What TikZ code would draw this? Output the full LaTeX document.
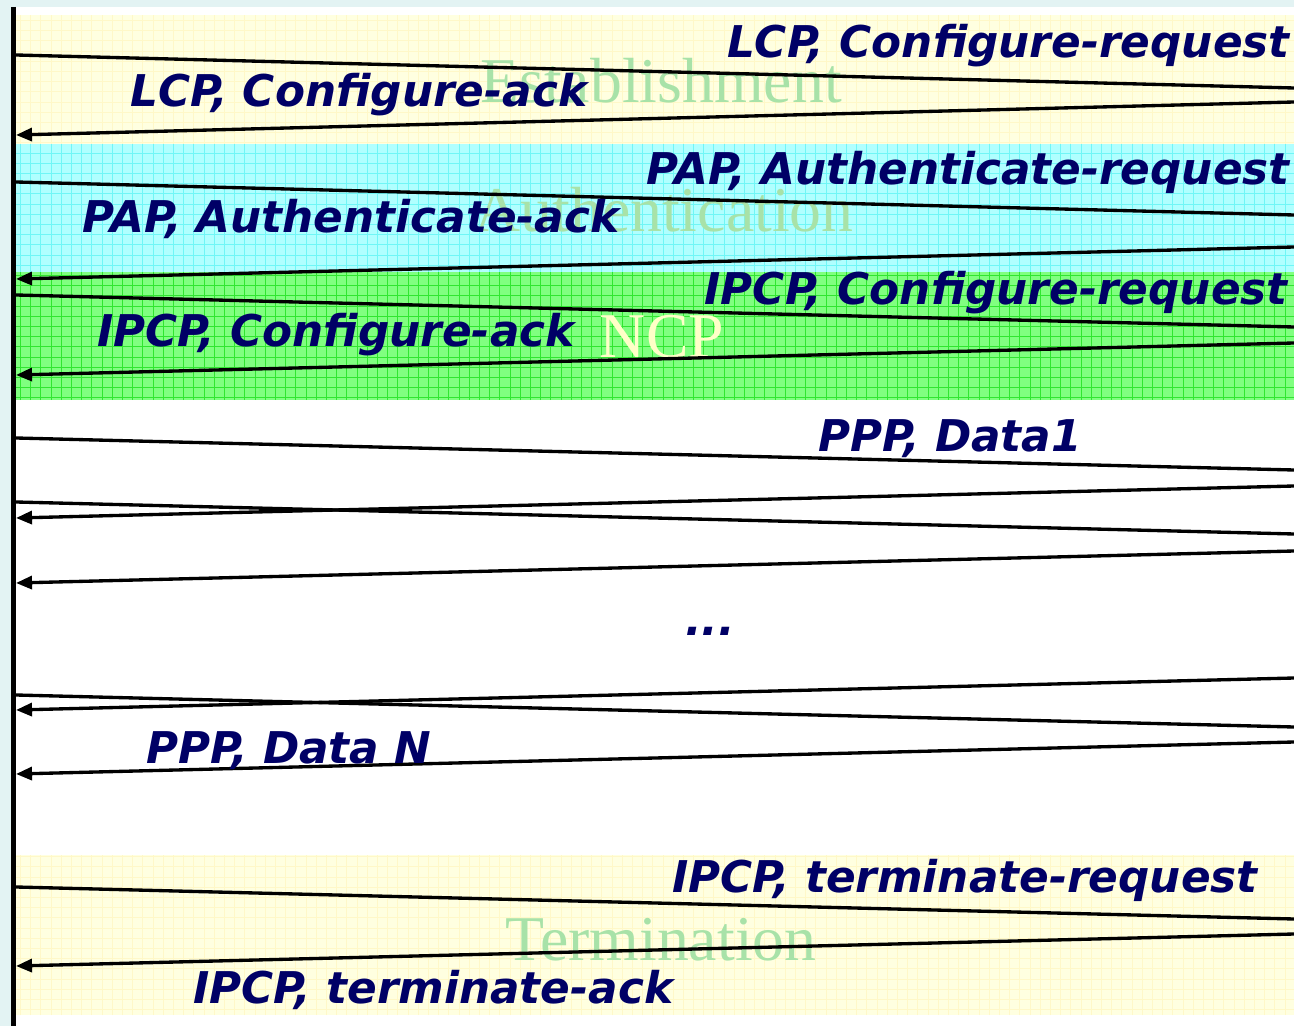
\documentclass[tikz,border=0pt]{standalone}
\usepackage{fontspec}
\usepackage{xcolor}
\usepackage{tikz}
\usetikzlibrary{arrows.meta}
\newfontfamily\msgfont{DejaVu Sans}[BoldFont={DejaVu Sans Bold}, ItalicFont={DejaVu Sans Oblique}, BoldItalicFont={DejaVu Sans Bold Oblique}]
\newfontfamily\bandfont{Liberation Serif}
\definecolor{frameBg}{HTML}{E3F3F3}
\definecolor{estBg}{HTML}{FFFFE0}
\definecolor{estGrid}{HTML}{FFF8C8}
\definecolor{authBg}{HTML}{B0FFFF}
\definecolor{authGrid}{HTML}{70F6F6}
\definecolor{ncpBg}{HTML}{80FF80}
\definecolor{ncpGrid}{HTML}{30E630}
\definecolor{msgNavy}{HTML}{000066}
\definecolor{phaseGreen}{HTML}{A8E2A8}
\definecolor{phaseCream}{HTML}{FFFFC8}

\begin{document}
\begin{tikzpicture}[
    x=0.02cm, y=-0.02cm,
    bandgrid/.style={line width=0.4pt, xstep=0.204cm, ystep=0.204cm},
    phase/.style={font=\bandfont\fontsize{36.3pt}{40pt}\selectfont, color=phaseGreen, inner sep=0pt},
    msglabel/.style={font=\msgfont\bfseries\itshape\fontsize{24.9pt}{29pt}\selectfont, color=msgNavy, inner sep=0pt},
    lifeline/.style={line width=0.1cm, color=black},
    msg/.style={line width=1.9pt, color=black},
    reply/.style={msg, -{Triangle[length=0.32cm, width=0.26cm]}}
]
\useasboundingbox (0,0) rectangle (1294,1026);
\fill[frameBg] (0,0) rectangle (1294,1026);
\fill[white] (11,7) rectangle (1294,1026);

\fill[estBg] (16,15) rectangle (1294,144);
\draw[estGrid, bandgrid] (16,144) grid (1294,15);
\fill[authBg] (16,144) rectangle (1294,272);
\draw[authGrid, bandgrid] (16,272) grid (1294,144);
\fill[ncpBg] (16,272) rectangle (1294,400);
\draw[ncpGrid, bandgrid] (16,400) grid (1294,272);
\fill[estBg] (16,855) rectangle (1294,1015);
\draw[estGrid, bandgrid] (16,1015) grid (1294,855);

\node[phase, anchor=base] (est) at (661,103) {Establishment};
\node[phase, anchor=base] (auth) at (664,232) {Authentication};
\node[phase, anchor=base, color=phaseCream] (ncp) at (662,358) {NCP};
\node[phase, anchor=base] (term) at (661,960) {Termination};

\coordinate (client_top) at (13.5,7);
\coordinate (client_bot) at (13.5,1026);
\draw[lifeline] (client_top) -- (client_bot);

\coordinate (lcp_req_l) at (16,55);    \coordinate (lcp_req_r) at (1294,88);
\coordinate (lcp_ack_r) at (1294,102); \coordinate (lcp_ack_l) at (16,135);
\coordinate (pap_req_l) at (16,182);   \coordinate (pap_req_r) at (1294,215);
\coordinate (pap_ack_r) at (1294,247); \coordinate (pap_ack_l) at (16,279);
\coordinate (ipcp_req_l) at (16,295);  \coordinate (ipcp_req_r) at (1294,327);
\coordinate (ipcp_ack_r) at (1294,343); \coordinate (ipcp_ack_l) at (16,375);
\coordinate (data1_l) at (16,438);     \coordinate (data1_r) at (1294,470);
\coordinate (back1_r) at (1294,486);   \coordinate (back1_l) at (16,518);
\coordinate (data2_l) at (16,502);     \coordinate (data2_r) at (1294,534);
\coordinate (back2_r) at (1294,551);   \coordinate (back2_l) at (16,583);
\coordinate (back3_r) at (1294,678);   \coordinate (back3_l) at (16,710);
\coordinate (data3_l) at (16,695);     \coordinate (data3_r) at (1294,727);
\coordinate (datan_r) at (1294,742);   \coordinate (datan_l) at (16,774);
\coordinate (term_req_l) at (16,887);  \coordinate (term_req_r) at (1294,919);
\coordinate (term_ack_r) at (1294,934); \coordinate (term_ack_l) at (16,966);

\draw[msg] (lcp_req_l) -- (lcp_req_r);
\draw[reply] (lcp_ack_r) -- (lcp_ack_l);
\draw[msg] (pap_req_l) -- (pap_req_r);
\draw[reply] (pap_ack_r) -- (pap_ack_l);
\draw[msg] (ipcp_req_l) -- (ipcp_req_r);
\draw[reply] (ipcp_ack_r) -- (ipcp_ack_l);
\draw[msg] (data1_l) -- (data1_r);
\draw[reply] (back1_r) -- (back1_l);
\draw[msg] (data2_l) -- (data2_r);
\draw[reply] (back2_r) -- (back2_l);
\draw[reply] (back3_r) -- (back3_l);
\draw[msg] (data3_l) -- (data3_r);
\draw[reply] (datan_r) -- (datan_l);
\draw[msg] (term_req_l) -- (term_req_r);
\draw[reply] (term_ack_r) -- (term_ack_l);

\node[msglabel, anchor=base east] (lcp_req) at (1290,58) {LCP, Configure-request};
\node[msglabel, anchor=base west] (lcp_ack) at (130,107) {LCP, Configure-ack};
\node[msglabel, anchor=base east] (pap_req) at (1290,185) {PAP, Authenticate-request};
\node[msglabel, anchor=base west] (pap_ack) at (82,233) {PAP, Authenticate-ack};
\node[msglabel, anchor=base east] (ipcp_req) at (1288,305) {IPCP, Configure-request};
\node[msglabel, anchor=base west] (ipcp_ack) at (97,347) {IPCP, Configure-ack};
\node[msglabel, anchor=base west] (data1) at (818,452) {PPP, Data1};
\node[msglabel, anchor=base] (dots) at (710,635) {...};
\node[msglabel, anchor=base west] (datan) at (146,763) {PPP, Data N};
\node[msglabel, anchor=base east] (term_req) at (1258,892) {IPCP, terminate-request};
\node[msglabel, anchor=base west] (term_ack) at (193,1003) {IPCP, terminate-ack};

\end{tikzpicture}
\end{document}
